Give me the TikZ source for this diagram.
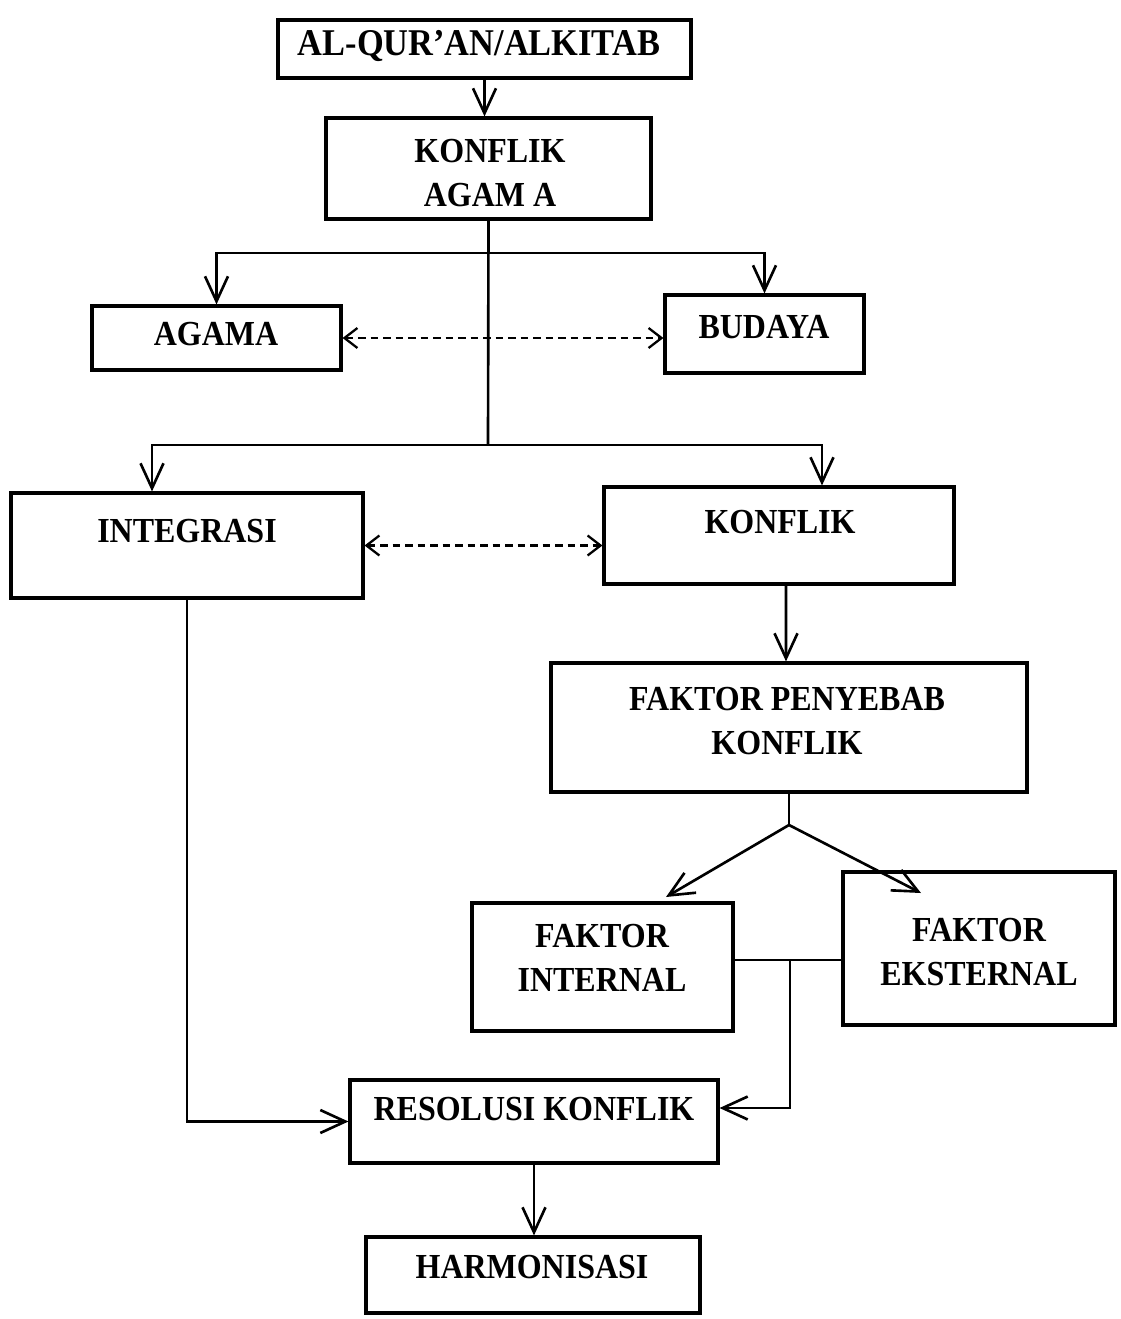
\documentclass[tikz,border=0pt]{standalone}
\usepackage{fontspec}
\setmainfont{Liberation Serif}[FakeStretch=0.91]
\usepackage{tikz}
\usetikzlibrary{arrows.meta,calc}

\tikzset{
  box/.style={draw, line width=1.8pt, rectangle, inner sep=0pt},
  label/.style={font=\bfseries\fontsize{20}{25}\selectfont, align=center, inner sep=0pt},
  arr/.style={line width=1.5pt, -{Straight Barb[length=0.5cm,width=0.46cm,line width=1.5pt]}},
  link/.style={line width=1.5pt},
  dasharr/.style={line width=1.3pt, dash pattern=on 0.15cm off 0.1cm,
    {Straight Barb[length=0.26cm,width=0.4cm,line width=1.3pt]}-{Straight Barb[length=0.26cm,width=0.4cm,line width=1.3pt]}}
}

\begin{document}
\begin{tikzpicture}[x=0.02cm,y=-0.02cm]
    \useasboundingbox (0,0) rectangle (1120,1319);

    % draw boxes
    \node[box, minimum width=8.26cm, minimum height=1.16cm] (quran) at (484.5,49) {};
    \node[box, minimum width=6.5cm, minimum height=2.02cm] (konflikagama) at (488.5,168.5) {};
    \node[box, minimum width=4.98cm, minimum height=1.28cm] (agama) at (216.5,338) {};
    \node[box, minimum width=3.98cm, minimum height=1.56cm] (budaya) at (764.5,334) {};
    \node[box, minimum width=7.04cm, minimum height=2.1cm] (integrasi) at (187,545.5) {};
    \node[box, minimum width=7.0cm, minimum height=1.94cm] (konflik) at (779,535.5) {};
    \node[box, minimum width=9.52cm, minimum height=2.58cm] (faktor) at (789,727.5) {};
    \node[box, minimum width=5.22cm, minimum height=2.56cm] (internal) at (602.5,967) {};
    \node[box, minimum width=5.44cm, minimum height=3.06cm] (eksternal) at (979,948.5) {};
    \node[box, minimum width=7.36cm, minimum height=1.66cm] (resolusi) at (534,1121.5) {};
    \node[box, minimum width=6.68cm, minimum height=1.52cm] (harmonisasi) at (533,1275) {};

    % draw texts
    \node[label, font=\bfseries\fontsize{21.5}{25}\selectfont] (tquran) at (479,46) {AL-QUR'AN/ALKITAB};
    \node[label] (tkonflikagama) at (490,173) {KONFLIK\\AGAM A};
    \node[label] (tagama) at (216,334) {AGAMA};
    \node[label] (tbudaya) at (764,327) {BUDAYA};
    \node[label] (tintegrasi) at (187,531) {INTEGRASI};
    \node[label] (tkonflik) at (780,522) {KONFLIK};
    \node[label] (tfaktor) at (787,721) {FAKTOR PENYEBAB\\KONFLIK};
    \node[label] (tinternal) at (602,958) {FAKTOR\\INTERNAL};
    \node[label] (teksternal) at (979,952) {FAKTOR\\EKSTERNAL};
    \node[label] (tresolusi) at (534,1109) {RESOLUSI KONFLIK};
    \node[label] (tharmonisasi) at (532,1267) {HARMONISASI};

    % branch points
    \coordinate (split1) at (488,253);
    \coordinate (split2) at (488,445);
    \coordinate (fork) at (789,825);
    \coordinate (tipint) at (666,897);
    \coordinate (tipeks) at (921,893);
    \coordinate (join) at (790,960);

    % draw arrows
    \draw[arr] (quran.south) -- (quran.south |- konflikagama.north);
    \draw[link] (konflikagama.south) -- (split2);
    \draw[arr] (split1) -| (agama.north);
    \draw[arr] (split1) -| (budaya.north);
    \draw[dasharr] (agama.east) -- (agama.east -| budaya.west);
    \draw[arr] (split2) -| ([xshift=-0.7cm]integrasi.north);
    \draw[arr] (split2) -| ([xshift=0.86cm]konflik.north);
    \draw[dasharr] (integrasi.east) -- (integrasi.east -| konflik.west);
    \draw[arr] ([xshift=0.14cm]konflik.south) -- ([xshift=-0.06cm]faktor.north);
    \draw[link] (faktor.south) -- (fork);
    \draw[arr] (fork) -- (tipint);
    \draw[arr] (fork) -- (tipeks);
    \draw[link] (join -| internal.east) -- (join -| eksternal.west);
    \draw[arr] (join) |- ([yshift=0.27cm]resolusi.east);
    \draw[arr] (integrasi.south) |- (resolusi.west);
    \draw[arr] (resolusi.south) -- (resolusi.south |- harmonisasi.north);

  \end{tikzpicture}
\end{document}
